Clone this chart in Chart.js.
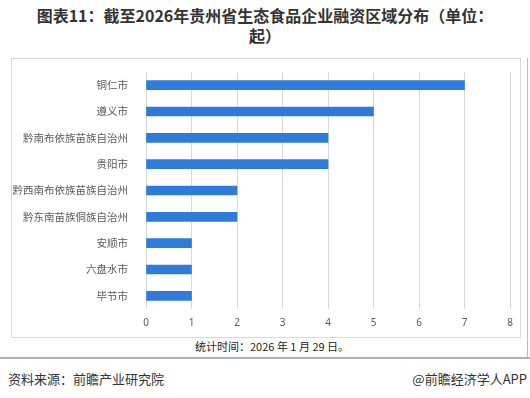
<!DOCTYPE html>
<html>
<head>
<meta charset="utf-8">
<script src="https://cdn.jsdelivr.net/npm/chart.js@4/dist/chart.umd.min.js"></script>
<style>
  body { margin: 0; background: #fff; width: 530px; height: 398px; overflow: hidden; position: relative;
         font-family: "Noto Sans CJK SC", "Noto Sans", sans-serif; }
  #title { position: absolute; left: 0; top: 5px; width: 530px; text-align: center; font-size: 16px;
           font-weight: bold; color: #333; line-height: 20px; }
  #frame { position: absolute; left: 11px; top: 58px; width: 508px; height: 278px; border: 1px solid #d9d9d9; }
  #edge { position: absolute; left: 527px; top: 58px; width: 1px; height: 300px; background: #b4bcc4; }
  #rule { position: absolute; left: 0; top: 357px; width: 530px; height: 2px; background: #a9b3bd; }
  #note { position: absolute; left: 195px; top: 338px; font-size: 11px; color: #222; }
  #src { position: absolute; left: 8px; top: 369px; font-size: 13px; color: #333; }
  #app { position: absolute; right: 3px; top: 369px; font-size: 13px; color: #333; }
  canvas { position: absolute; left: 0; top: 0; }
</style>
</head>
<body>
<div id="title">图表11：截至2026年贵州省生态食品企业融资区域分布（单位：<br>起）</div>
<div id="frame"></div>
<div id="edge"></div>
<div id="rule"></div>
<div id="note">统计时间：2026 年 1 月 29 日。</div>
<div id="src">资料来源：前瞻产业研究院</div>
<div id="app">@前瞻经济学人APP</div>
<canvas id="chart" width="530" height="398"></canvas>
<script>
const regions = ["铜仁市", "遵义市", "黔南布依族苗族自治州", "贵阳市", "黔西南布依族苗族自治州",
                 "黔东南苗族侗族自治州", "安顺市", "六盘水市", "毕节市"];
const counts = [7, 5, 4, 4, 2, 2, 1, 1, 1];
const xTicks = [0, 1, 2, 3, 4, 5, 6, 7, 8];

new Chart("chart", {
    type: "bar",
    data: {
        labels: regions,
        datasets: [{
            label: "融资事件数",
            data: counts,
            backgroundColor: "#2f7bd9",
            barThickness: 9
        }]
    },
    options: {
        indexAxis: "y",
        responsive: false,
        animation: false,
        layout: { padding: { left: 0, right: 20, top: 72, bottom: 0 } },
        plugins: { legend: { display: false }, tooltip: { enabled: false } },
        scales: {
            x: {
                min: xTicks[0],
                max: xTicks[xTicks.length - 1],
                afterBuildTicks: s => { s.ticks = xTicks.map(v => ({ value: v })); },
                afterFit: s => { s.height = 89; },
                grid: { color: "#d9d9d9", drawTicks: false },
                border: { display: false },
                ticks: { color: "#595959", padding: 8, font: { family: "Noto Sans", size: 10 } }
            },
            y: {
                afterFit: s => { s.width = 146; },
                grid: { display: false },
                border: { display: false },
                ticks: { color: "#595959", padding: 10, font: { family: "Noto Sans CJK SC", size: 10.5 } }
            }
        }
    }
});
</script>
</body>
</html>
